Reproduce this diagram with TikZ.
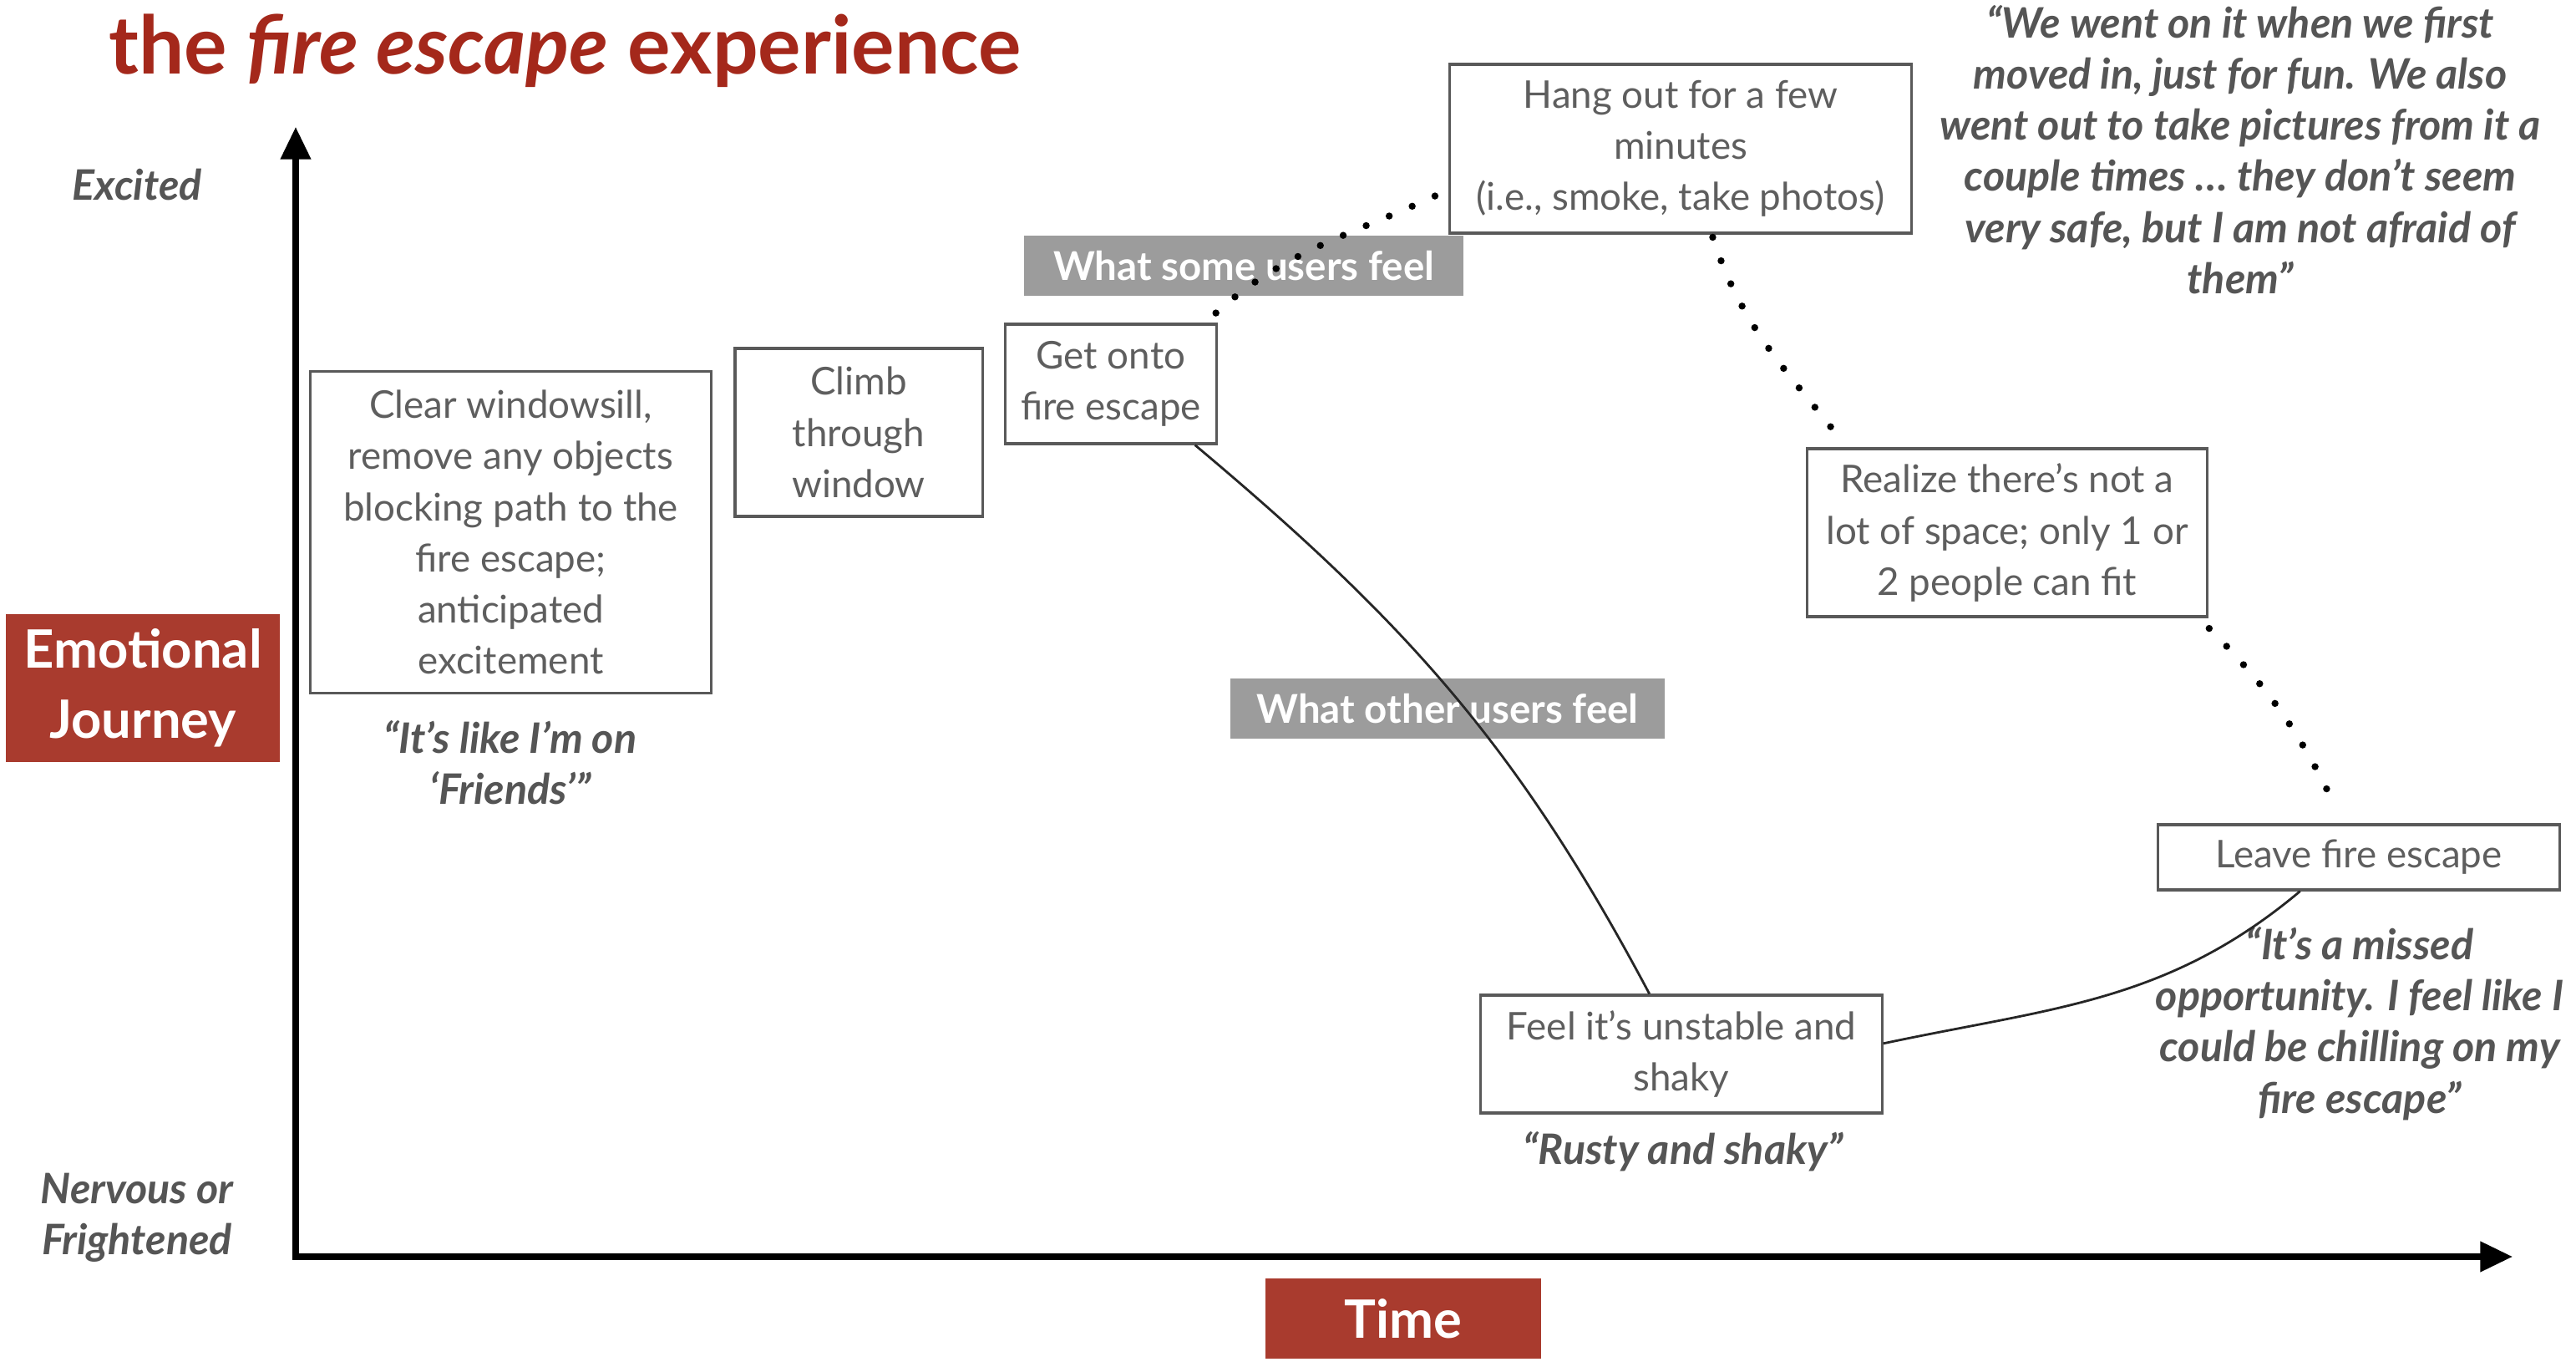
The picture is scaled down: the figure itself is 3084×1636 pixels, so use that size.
\documentclass[tikz,border=0pt]{standalone}
\usepackage{fontspec}
\setmainfont{Lato}
\usetikzlibrary{arrows.meta}
\definecolor{brick}{HTML}{A93B2E}
\definecolor{titlered}{HTML}{A4281B}
\definecolor{boxtext}{HTML}{5E5E5E}
\definecolor{quotetext}{HTML}{555555}
\definecolor{tagfill}{HTML}{9C9C9C}
\begin{document}
\begin{tikzpicture}[x=0.01cm,y=0.01cm,
  stepbox/.style={draw=black!65,line width=0.9pt,text=boxtext,inner sep=0pt,align=center,font=\fontsize{13}{17.4}\selectfont},
  quote/.style={text=quotetext,align=center,inner sep=0pt,font=\fontsize{14.3}{17.4}\selectfont\bfseries\itshape},
  redtag/.style={fill=brick,text=white,inner sep=0pt,align=center,font=\fontsize{18}{24}\selectfont\bfseries},
  greytag/.style={fill=tagfill,text=white,inner sep=0pt,font=\fontsize{13.5}{16}\selectfont\bfseries},
  dotline/.style={line width=2.4pt,dash pattern=on 0pt off 8.5pt,line cap=round},
  curve/.style={line width=0.8pt,black!85}]
\useasboundingbox (0,0) rectangle (3084,1636);

\node (title) at (118,1547)[anchor=base west,text=titlered,font=\fontsize{27.4}{32}\selectfont\bfseries]{the \textit{fire escape} experience};

% axes
\coordinate (O) at (354,132);
\coordinate (ytip) at (354,1484);
\coordinate (xtip) at (3008,132);
\draw[line width=2pt,{Triangle[length=11pt,width=10pt]}-{Triangle[length=11pt,width=10pt]}] (ytip)--(O)--(xtip);

\node (excited) at (164,1415)[quote]{Excited};
\node (nervous) at (164,179)[quote]{Nervous or\\Frightened};
\node (journey) at (171,812.5)[redtag,minimum width=3.28cm,minimum height=1.77cm]{Emotional\\Journey};
\node (time) at (1680,58)[redtag,minimum width=3.29cm,minimum height=0.96cm]{Time};

\node (some) at (1489,1318)[greytag,minimum width=5.26cm,minimum height=0.72cm]{What some users feel};
\node (other) at (1733,788)[greytag,minimum width=5.2cm,minimum height=0.72cm]{What other users feel};

% steps
\node (sill) at (611.5,999)[stepbox,minimum width=4.79cm,minimum height=3.84cm]{Clear windowsill,\\remove any objects\\blocking path to the\\fire escape;\\anticipated\\excitement};
\node (climb) at (1028,1118.5)[stepbox,minimum width=2.96cm,minimum height=2.01cm]{Climb\\through\\window};
\node (onto) at (1330,1176.5)[stepbox,minimum width=2.53cm,minimum height=1.43cm]{Get onto\\fire escape};
\node (hang) at (2012,1458)[stepbox,minimum width=5.52cm,minimum height=2.02cm]{Hang out for a few\\minutes\\(i.e., smoke, take photos)};
\node (space) at (2403,998.5)[stepbox,minimum width=4.78cm,minimum height=2.01cm]{Realize there’s not a\\lot of space; only 1 or\\2 people can fit};
\node (leave) at (2824,610)[stepbox,minimum width=4.8cm,minimum height=0.78cm]{Leave fire escape};
\node (shaky) at (2013,374.5)[stepbox,minimum width=4.8cm,minimum height=1.41cm]{Feel it’s unstable and\\shaky};

% quotes
\node (qfriends) at (611,723.5)[quote]{“It’s like I’m on\\‘Friends’”};
\node (qfun) at (2682,1457)[quote]{“We went on it when we first\\moved in, just for fun. We also\\went out to take pictures from it a\\couple times … they don’t seem\\very safe, but I am not afraid of\\them”};
\node (qmissed) at (2825,411)[quote]{“It’s a missed\\opportunity. I feel like I\\could be chilling on my\\fire escape”};
\node (qrusty) at (2015,258)[quote]{“Rusty and shaky”};

% paths
\draw[dotline,shorten <=5pt,shorten >=4pt] (onto.33) to[out=42,in=-155] (hang.190);
\draw[dotline,shorten <=1pt,shorten >=6pt] (hang.-70) to[out=-72,in=128] (space.152);
\draw[dotline,shorten <=5pt,shorten >=5pt] (space.-24) to[out=-45,in=115] (leave.115);
\draw[curve] (onto.-36) to[out=-40,in=118] (shaky.118);
\draw[curve] (shaky.3) to[out=12,in=-140] (leave.210);
\end{tikzpicture}
\end{document}
